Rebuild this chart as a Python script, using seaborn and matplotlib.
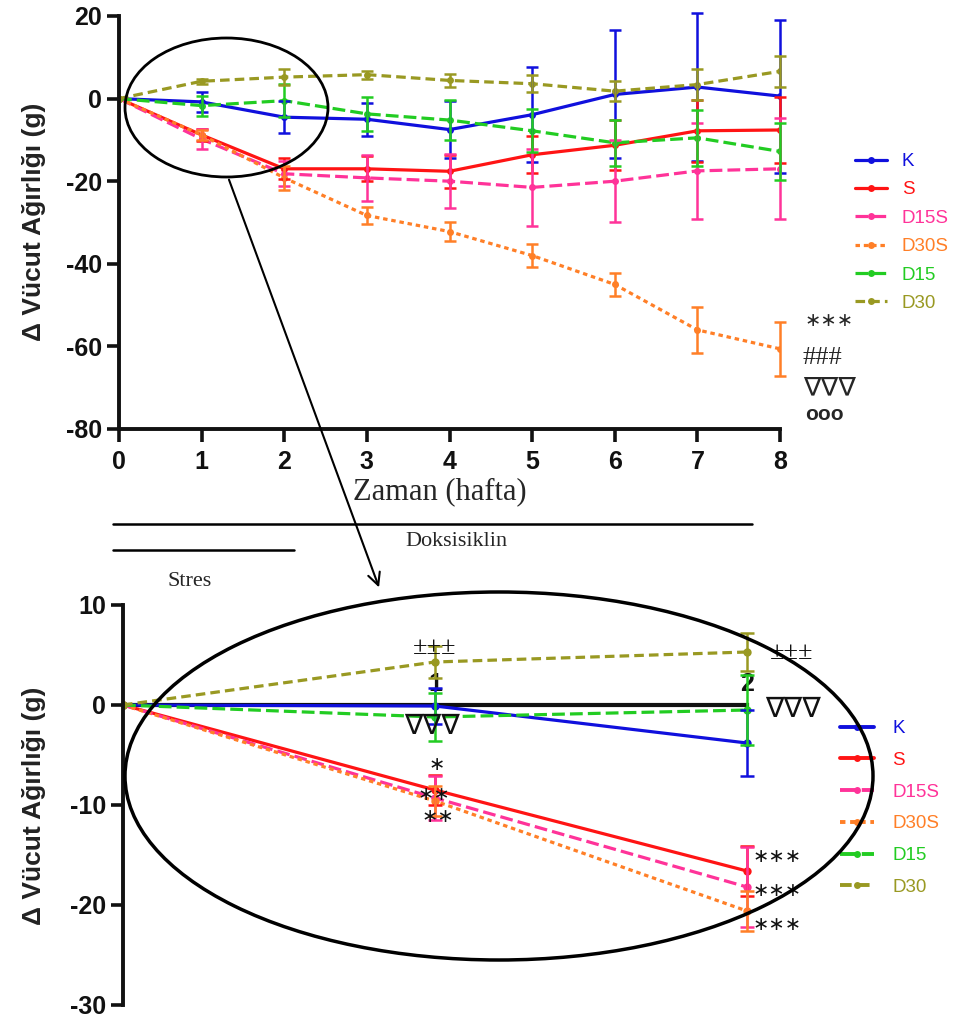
import numpy as np
import pandas as pd
import matplotlib
matplotlib.use("Agg")
import matplotlib.pyplot as plt
import seaborn as sns
from matplotlib.patches import Ellipse
from matplotlib.lines import Line2D

# ---------------- data ----------------
groups = ["K", "S", "D15S", "D30S", "D15", "D30"]
weeks = [0, 1, 2, 3, 4, 5, 6, 7, 8]

k_mean = [0, -0.8, -4.5, -5.0, -7.5, -3.9, 1.0, 2.8, 0.6]
k_err = [0, 2.5, 3.8, 4.0, 7.0, 11.5, 15.5, 18.0, 18.5]
s_mean = [0, -8.8, -17.0, -17.0, -17.6, -13.6, -11.3, -7.8, -7.6]
s_err = [0, 1.5, 2.5, 3.0, 4.0, 4.5, 6.0, 7.5, 8.0]
d15s_mean = [0, -9.8, -18.2, -19.2, -20.0, -21.5, -20.0, -17.5, -17.0]
d15s_err = [0, 2.5, 3.0, 5.5, 6.5, 9.3, 10.0, 11.7, 12.2]
d30s_mean = [0, -8.8, -19.2, -28.3, -32.2, -38.0, -45.0, -56.0, -60.6]
d30s_err = [0, 1.2, 3.0, 2.0, 2.2, 2.7, 2.8, 5.6, 6.6]
d15_mean = [0, -1.7, -0.5, -3.7, -5.2, -7.8, -10.7, -9.5, -12.8]
d15_err = [0, 2.4, 4.0, 4.2, 4.8, 5.2, 5.5, 6.8, 6.8]
d30_mean = [0, 4.2, 5.2, 5.8, 4.4, 3.6, 1.8, 3.4, 6.6]
d30_err = [0, 0.6, 2.0, 1.0, 1.5, 2.0, 2.4, 3.7, 3.8]

# zoomed view, weeks 0-2
zoom_weeks = [0, 1, 2]
zk_mean = [0, -0.1, -3.8]
zk_err = [0, 1.8, 3.3]
zs_mean = [0, -8.5, -16.6]
zs_err = [0, 1.5, 2.5]
zd15s_mean = [0, -9.3, -18.2]
zd15s_err = [0, 2.2, 4.0]
zd30s_mean = [0, -9.6, -20.6]
zd30s_err = [0, 1.5, 2.0]
zd15_mean = [0, -1.2, -0.5]
zd15_err = [0, 2.4, 3.5]
zd30_mean = [0, 4.3, 5.3]
zd30_err = [0, 1.6, 1.9]

y_ticks_top = [20, 0, -20, -40, -60, -80]
y_ticks_bottom = [10, 0, -10, -20, -30]

top_means = [k_mean, s_mean, d15s_mean, d30s_mean, d15_mean, d30_mean]
top_errs = [k_err, s_err, d15s_err, d30s_err, d15_err, d30_err]
bot_means = [zk_mean, zs_mean, zd15s_mean, zd30s_mean, zd15_mean, zd30_mean]
bot_errs = [zk_err, zs_err, zd15s_err, zd30s_err, zd15_err, zd30_err]

# ---------------- style ----------------
palette = {"K": "#1010DD", "S": "#FF1414", "D15S": "#FF3399",
           "D30S": "#FF7F27", "D15": "#22CC22", "D30": "#999922"}
dashes = {"K": "", "S": "", "D15S": (4, 1.6), "D30S": (1.4, 1.2),
          "D15": (4, 1.6), "D30": (3.0, 1.6)}
markers = {g: "o" for g in groups}

sns.set_theme(style="ticks")
plt.rcParams["font.family"] = ["Liberation Sans", "DejaVu Sans"]
plt.rcParams["axes.unicode_minus"] = False

W, H = 958, 1024
fig = plt.figure(figsize=(W / 100, H / 100), dpi=100)


def px_axes(left, top, right, bottom):
    return fig.add_axes([left / W, 1 - bottom / H, (right - left) / W, (bottom - top) / H])


def long_df(xs, means, errs):
    rows = []
    for g, m, e in zip(groups, means, errs):
        for x, v, ee in zip(xs, m, e):
            rows.append({"week": x, "value": v, "err": ee, "group": g})
    return pd.DataFrame(rows)


def draw_series(ax, df, lw=2.3, ms=5, cap=4):
    sns.lineplot(data=df, x="week", y="value", hue="group", style="group",
                 palette=palette, dashes=dashes, markers=markers,
                 markersize=ms, markeredgewidth=0, linewidth=lw,
                 hue_order=groups, style_order=groups, legend=False, ax=ax,
                 errorbar=None)
    for g in groups:
        sub = df[df["group"] == g]
        sub = sub[sub["err"] > 0]
        ax.errorbar(sub["week"], sub["value"], yerr=sub["err"], fmt="none",
                    ecolor=palette[g], elinewidth=1.8, capsize=cap,
                    capthick=1.8, clip_on=False, zorder=3)


def legend_handles(lw=2.3):
    hs = []
    for g in groups:
        ls = "-" if dashes[g] == "" else (0, dashes[g])
        hs.append(Line2D([0], [0], color=palette[g], lw=lw, linestyle=ls,
                         marker="o", markersize=5, markeredgewidth=0))
    return hs


tick_kw = dict(labelsize=18, width=2.6, length=9, colors="#111111")

# ---------------- top panel ----------------
ax1 = px_axes(119, 16, 780, 429)
df_top = long_df(weeks, top_means, top_errs)
draw_series(ax1, df_top)
ax1.set_xlim(0, 8)
ax1.set_ylim(-80, 20)
ax1.set_xticks(weeks)
ax1.set_yticks(y_ticks_top)
ax1.set_xlabel("")
ax1.set_ylabel("")
for s in ["top", "right"]:
    ax1.spines[s].set_visible(False)
for s in ["left", "bottom"]:
    ax1.spines[s].set_linewidth(2.8)
    ax1.spines[s].set_color("#111111")
ax1.tick_params(axis="both", **tick_kw)
ax1.tick_params(axis="x", pad=6)
ax1.tick_params(axis="y", pad=3)
for lab in ax1.get_xticklabels() + ax1.get_yticklabels():
    lab.set_fontweight("bold")

ax1.legend(legend_handles(), groups, loc="upper left",
           bbox_to_anchor=(855 / W, 1 - 153 / H), bbox_transform=fig.transFigure,
           frameon=False, fontsize=13.5, handlelength=1.7, handletextpad=0.8,
           labelspacing=0.6, borderpad=0, borderaxespad=0, labelcolor="linecolor")

# ---------------- bottom panel ----------------
ax2 = px_axes(123, 605, 123 + 312 * 2.6, 1005)
df_bot = long_df(zoom_weeks, bot_means, bot_errs)
draw_series(ax2, df_bot, ms=6, cap=5)
ax2.set_xlim(0, 2.6)
ax2.set_ylim(-30, 10)
ax2.set_yticks(y_ticks_bottom)
ax2.set_xticks([1, 2])
ax2.set_xlabel("")
ax2.set_ylabel("")
for s in ["top", "right"]:
    ax2.spines[s].set_visible(False)
ax2.spines["left"].set_linewidth(2.8)
ax2.spines["left"].set_color("#111111")
ax2.spines["bottom"].set_position(("data", 0))
ax2.spines["bottom"].set_bounds(0, 2)
ax2.spines["bottom"].set_linewidth(3)
ax2.spines["bottom"].set_color("#111111")
ax2.spines["bottom"].set_zorder(1)
ax2.tick_params(axis="y", **tick_kw)
ax2.tick_params(axis="y", pad=3)
ax2.tick_params(axis="x", length=0, labelsize=18, pad=-24, colors="#111111")
for lab in ax2.get_xticklabels() + ax2.get_yticklabels():
    lab.set_fontweight("bold")

ax2.legend(legend_handles(2.8), groups, loc="upper left",
           bbox_to_anchor=(840 / W, 1 - 720 / H), bbox_transform=fig.transFigure,
           frameon=False, fontsize=13.5, handlelength=1.8, handletextpad=1.0,
           labelspacing=0.78, borderpad=0, borderaxespad=0, labelcolor="linecolor")

# significance marks in the zoomed panel
star_font = ["DejaVu Sans"]
serif_font = ["Liberation Serif", "DejaVu Serif", "DejaVu Sans"]
ann = [
    (1.0, 5.7, "±±±", serif_font, 19),
    (2.144, 5.2, "±±±", serif_font, 19),
    (0.99, -2.1, "∇∇∇", star_font, 20),
    (2.148, -0.4, "∇∇∇", star_font, 20),
    (1.007, -6.0, "∗", star_font, 14),
    (0.997, -9.0, "∗∗", star_font, 14),
    (1.008, -11.2, "∗∗", star_font, 14),
    (2.098, -15.2, "∗∗∗", star_font, 14),
    (2.098, -18.6, "∗∗∗", star_font, 14),
    (2.098, -22.0, "∗∗∗", star_font, 14),
]
for x, y, t, fam, fs in ann:
    ax2.text(x, y, t, ha="center", va="center", fontsize=fs, family=fam,
             color="#111111", zorder=6)

# ---------------- overlay (figure decorations) ----------------
ov = fig.add_axes([0, 0, 1, 1], zorder=10)
ov.set_xlim(0, W)
ov.set_ylim(H, 0)
ov.axis("off")
ov.patch.set_alpha(0)

ov.add_patch(Ellipse((226.5, 107.5), 203, 139, fill=False, lw=2.0, color="black"))
ov.add_patch(Ellipse((499, 776), 748, 368, fill=False, lw=2.5, color="black"))
ov.annotate("", xy=(380, 590), xytext=(228, 177),
            arrowprops=dict(arrowstyle="->", lw=1.5, color="black", mutation_scale=22))
ov.plot([113, 752], [524, 524], color="black", lw=1.8)
ov.plot([113, 294], [550, 550], color="black", lw=1.8)
ov.text(456, 542, "Doksisiklin", ha="center", va="center", fontsize=16, family=serif_font)
ov.text(190, 582, "Stres", ha="center", va="center", fontsize=16, family=serif_font)
ov.text(440, 492, "Zaman (hafta)", ha="center", va="center", fontsize=22, family=serif_font)

ylab = "Δ Vücut Ağırlığı (g)"
ov.text(34, 222, ylab, rotation=90, ha="center", va="center", fontsize=19,
        fontweight="bold", color="#222222")
ov.text(34, 806, ylab, rotation=90, ha="center", va="center", fontsize=19,
        fontweight="bold", color="#222222")

# significance marks next to the top panel
ov.text(805, 320, "∗∗∗", ha="left", va="center", fontsize=14, family=star_font)
ov.text(803, 358, "###", ha="left", va="center", fontsize=19, family=serif_font)
ov.text(803, 388, "∇∇∇", ha="left", va="center", fontsize=19, family=star_font)
ov.text(805, 414, "ooo", ha="left", va="center", fontsize=15, fontweight="bold")

fig.savefig("out.png", dpi=100)
